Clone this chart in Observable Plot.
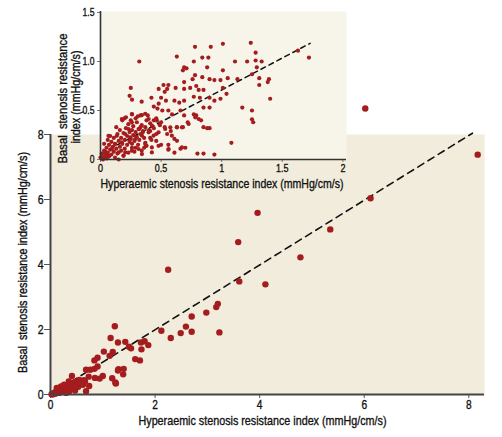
<!DOCTYPE html>
<html><head><meta charset="utf-8">
<script src="https://cdn.jsdelivr.net/npm/d3@7"></script>
<script src="https://cdn.jsdelivr.net/npm/@observablehq/plot@0.6"></script>
<style>
body{margin:0;background:#fff;}
#wrap{position:relative;width:502px;height:437px;}
#wrap svg{position:absolute;left:0;top:0;}
</style></head><body><div id="wrap"></div>
<script>
const FONT = '"Liberation Sans", Arial, sans-serif';

// ---- main chart data (hyperaemic x, basal y) ----
const mainHyper = [8.17,6.02,6.12,5.35,4.78,4.11,3.96,3.59,3.61,2.25,3.23,3.20,3.17,2.98,2.70,2.70,2.59,2.49,2.30,2.12,
  1.87,1.80,1.73,1.74,1.71,1.62,1.50,1.43,1.54,1.29,1.23,1.15,1.19,1.13,1.02,1.30,1.40,1.39,1.29,1.18,1.24,1.25,1.00,0.94,0.85,
  0.90,0.90,0.84,0.84,0.76,0.68,0.73,0.74,0.68,0.41,0.55,
  0.02,0.04,0.05,0.07,0.08,0.10,0.11,0.12,0.14,0.15,0.16,0.17,0.18,0.20,0.21,0.22,0.24,0.25,0.26,0.28,0.29,0.30,0.31,0.33,
  0.34,0.35,0.36,0.38,0.39,0.40,0.42,0.43,0.45,0.46,0.48,0.50,0.52,0.53,0.55,0.57,0.60,0.62,0.64,0.66,0.47,0.30,0.20,0.12,0.35,0.26];
const mainBasal = [7.38,8.80,6.04,5.08,4.22,3.39,5.59,4.69,3.48,3.84,1.91,2.79,2.69,2.52,2.40,1.93,2.09,1.89,1.74,1.96,
  1.52,1.64,1.60,1.39,1.05,1.09,1.47,1.62,1.42,1.60,2.10,1.74,1.31,1.19,1.32,0.78,0.79,0.62,0.74,0.50,0.37,0.34,0.57,0.49,0.51,
  0.86,1.13,1.05,0.79,0.76,0.76,0.55,0.26,0.10,0.57,0.45,
  0.01,0.00,0.03,0.05,0.02,0.08,0.04,0.12,0.06,0.10,0.15,0.05,0.12,0.18,0.08,0.14,0.20,0.10,0.16,0.24,0.12,0.19,0.28,0.15,
  0.22,0.32,0.10,0.26,0.18,0.35,0.24,0.30,0.20,0.38,0.28,0.33,0.40,0.24,0.36,0.42,0.38,0.30,0.44,0.40,0.12,0.05,0.25,0.20,0.40,0.30];
const mainFitX = [0, 8.07];
const mainFitY = [0, 8.04];
const mainTicks = [0, 2, 4, 6, 8];

// ---- inset data ----
const insetHyper = [0.32,0.78,0.91,1.01,1.24,0.63,0.84,0.89,0.77,1.11,1.21,1.28,1.28,1.33,1.63,1.72,0.69,0.71,0.68,1.01,0.88,
  0.78,0.84,0.90,0.94,0.76,0.69,0.69,0.74,0.79,0.81,0.85,0.82,0.77,0.90,0.94,0.99,1.05,1.01,1.04,0.99,1.13,1.25,1.29,1.31,1.31,
  1.38,1.39,1.40,1.17,1.25,1.25,1.26,1.08,0.94,0.85,0.80,0.70,0.66,0.61,0.56,0.61,0.56,0.50,0.85,0.88,0.90,0.77,0.79,0.85,0.90,
  0.83,0.72,0.68,0.63,0.69,0.66,0.65,0.69,0.61,0.62,0.55,0.52,0.56,0.48,0.53,0.50,0.54,0.48,0.44,0.42,0.47,0.51,0.56,0.59,
  0.25,0.24,0.26,0.34,0.39,0.33,0.29,0.26,0.21,0.44,0.49,0.53,0.58,0.55,0.46,0.41,0.41,0.46,0.37,0.36,0.29,0.26,0.33,0.35,
  0.066,0.135,0.176,0.198,0.259,0.308,0.342,0.369,0.397,0.424,0.466,0.259,0.314,0.231,0.204,0.245,0.286,0.342,0.397,0.438,
  0.479,0.534,0.576,0.631,0.672,0.727,0.782,0.810,0.589,0.631,0.672,0.562,0.479,0.424,0.369,0.314,0.259,0.204,0.149,0.094,
  0.066,0.039,0.011,0.025,0.121,0.176,0.190,0.342,0.424,
  0.00,0.01,0.02,0.03,0.04,0.05,0.05,0.06,0.07,0.07,0.08,0.09,0.09,0.10,0.11,0.11,0.12,0.12,0.13,0.14,0.14,0.15,0.16,0.16,
  0.17,0.17,0.18,0.19,0.19,0.20,0.20,0.21,0.22,0.22,0.23,0.23,0.24,0.24,0.25,0.25,0.26,0.26,0.27,0.27,0.28,0.28,0.29,0.30,
  0.30,0.31,0.32,0.32,0.33,0.34,0.34,0.35,0.36,0.37,0.38,0.38,0.40,0.41,0.42,0.44,0.46,0.50,0.18,0.13,0.08,0.03,0.15,0.06];
const insetBasal = [1.00,1.15,1.15,1.18,1.19,1.05,1.04,1.04,1.00,1.00,1.00,1.09,1.01,1.00,1.11,1.04,0.94,0.93,0.91,0.91,0.94,
  0.86,0.84,0.82,0.81,0.82,0.79,0.72,0.73,0.75,0.71,0.71,0.63,0.64,0.63,0.60,0.81,0.83,0.73,0.67,0.62,0.82,0.87,0.94,0.83,0.76,
  0.79,0.82,0.62,0.53,0.50,0.41,0.38,0.17,0.05,0.06,0.06,0.12,0.11,0.07,0.10,0.21,0.15,0.15,0.33,0.32,0.32,0.46,0.45,0.53,0.53,
  0.40,0.38,0.33,0.33,0.45,0.50,0.58,0.60,0.60,0.73,0.72,0.76,0.76,0.72,0.69,0.63,0.60,0.57,0.54,0.63,0.52,0.50,0.50,0.46,
  0.73,0.65,0.61,0.59,0.45,0.45,0.42,0.46,0.43,0.40,0.35,0.33,0.29,0.26,0.26,0.29,0.22,0.19,0.17,0.12,0.12,0.16,0.33,0.29,
  0.242,0.242,0.413,0.420,0.464,0.440,0.453,0.467,0.413,0.345,0.396,0.379,0.311,0.311,0.260,0.226,0.209,0.243,0.277,0.243,
  0.277,0.311,0.328,0.328,0.328,0.362,0.430,0.413,0.243,0.191,0.123,0.107,0.140,0.123,0.157,0.107,0.090,0.072,0.072,0.107,
  0.038,0.072,0.055,0.021,0.157,0.174,0.038,0.055,0.072,
  0.02,0.06,0.00,0.09,0.04,0.12,0.01,0.07,0.15,0.03,0.10,0.18,0.05,0.13,0.08,0.22,0.02,0.16,0.11,0.26,0.06,0.19,0.13,0.30,
  0.09,0.22,0.16,0.27,0.04,0.20,0.11,0.32,0.24,0.15,0.36,0.07,0.28,0.18,0.21,0.40,0.12,0.30,0.25,0.34,0.19,0.08,0.28,0.23,
  0.38,0.15,0.31,0.20,0.26,0.35,0.09,0.28,0.22,0.33,0.14,0.40,0.30,0.37,0.20,0.32,0.42,0.38,0.40,0.33,0.24,0.16,0.00,0.20];
const insetFitX = [0.01, 1.73];
const insetFitY = [0.065, 1.185];
const insetXTicks = [0, 0.5, 1, 1.5, 2];
const insetXLabels = ["0", "0.5", "1", "1.5", "2"];
const insetYTicks = [0, 0.5, 1, 1.5];
const insetYLabels = ["0", "0.5", "1.0", "1.5"];

const xLabel = "Hyperaemic stenosis resistance index (mmHg/cm/s)";
const yLabelMain = "Basal  stenosis resistance index (mmHg/cm/s)";
const yLabelInset1 = "Basal  stenosis resistance";
const yLabelInset2 = "index (mmHg/cm/s)";

const DOT = "#a51c1e";
const mainData = mainHyper.map((x, i) => ({x, y: mainBasal[i]}));
const mainFit = mainFitX.map((x, i) => ({x, y: mainFitY[i]}));
const insetData = insetHyper.map((x, i) => ({x, y: insetBasal[i]}));
const insetFit = insetFitX.map((x, i) => ({x, y: insetFitY[i]}));

const lbl = {fill: "#111", textAnchor: "middle", fontSize: 13.5};

const mainPlot = Plot.plot({
  width: 502, height: 437,
  marginLeft: 50, marginRight: 18, marginTop: 134, marginBottom: 43,
  x: {domain: [0, 8.3]},
  y: {domain: [0, 8]},
  style: {fontFamily: FONT, fontSize: "13px", background: "transparent", overflow: "visible", color: "#111"},
  marks: [
    Plot.frame({fill: "#f1ecdc", stroke: null}),
    Plot.axisX({ticks: mainTicks, tickSize: 4, tickPadding: 1, label: null, stroke: "#555", fontSize: 13}),
    Plot.axisY({ticks: mainTicks, tickSize: 6, tickPadding: 1, label: null, stroke: "#555", fontSize: 13.5}),
    Plot.line(mainFit, {x: "x", y: "y", stroke: "#111", strokeWidth: 1.6, strokeDasharray: "7,5"}),
    Plot.dot(mainData, {x: "x", y: "y", r: 3.2, fill: DOT}),
    Plot.ruleY([0], {stroke: "#444", strokeWidth: 2}),
    Plot.ruleX([0], {stroke: "#444", strokeWidth: 2}),
    Plot.text([xLabel], {...lbl, text: d => d, frameAnchor: "bottom", dy: 30, dx: -5}),
    Plot.text([yLabelMain], {...lbl, text: d => d, frameAnchor: "left", dx: -28, dy: -2, rotate: -90})
  ]
});

const insetPlot = Plot.plot({
  width: 360, height: 200,
  marginLeft: 100, marginRight: 14, marginTop: 11, marginBottom: 41,
  x: {domain: [0, 2.03]},
  y: {domain: [0, 1.51]},
  style: {fontFamily: FONT, fontSize: "11px", background: "transparent", overflow: "visible", color: "#111"},
  marks: [
    Plot.frame({fill: "#f7f4ea", stroke: null}),
    Plot.axisX({ticks: insetXTicks, tickFormat: (d, i) => insetXLabels[i], tickSize: 3, tickPadding: 1, label: null, stroke: "#777", fontSize: 11.5}),
    Plot.axisY({ticks: insetYTicks, tickFormat: (d, i) => insetYLabels[i], tickSize: 3, tickPadding: 3, label: null, stroke: "#777", fontSize: 11}),
    Plot.line(insetFit, {x: "x", y: "y", stroke: "#111", strokeWidth: 1.5, strokeDasharray: "5,4"}),
    Plot.dot(insetData, {x: "x", y: "y", r: 2.1, fill: DOT}),
    Plot.ruleY([0], {stroke: "#333", strokeWidth: 1.6}),
    Plot.ruleX([0], {stroke: "#333", strokeWidth: 1.6}),
    Plot.text([xLabel], {...lbl, text: d => d, frameAnchor: "bottom", dy: 28, dx: -1.5}),
    Plot.text([yLabelInset1], {...lbl, text: d => d, frameAnchor: "left", dx: -38, dy: 13, rotate: -90}),
    Plot.text([yLabelInset2], {...lbl, text: d => d, frameAnchor: "left", dx: -24.5, dy: 11.5, rotate: -90})
  ]
});

const wrap = document.getElementById("wrap");
wrap.appendChild(mainPlot);
wrap.appendChild(insetPlot);

// condensed look: squeeze glyphs horizontally (the original uses a heavier condensed typeface)
const targetWidths = new Map([[xLabel, 248], [yLabelMain, 221], [yLabelInset1, 130], [yLabelInset2, 93]]);
for (const svg of [mainPlot, insetPlot]) {
  d3.select(svg).selectAll("text").each(function () {
    if (this.querySelector("tspan")) return;
    const w = this.getComputedTextLength();
    const t = this.textContent;
    const target = targetWidths.has(t) ? targetWidths.get(t) : w * 0.78;
    this.setAttribute("textLength", target);
    this.setAttribute("lengthAdjust", "spacingAndGlyphs");
    this.setAttribute("stroke", "#111");
    this.setAttribute("stroke-width", "0.35");
  });
}
// inset x-label width matches the inset frame
d3.select(insetPlot).selectAll("text").filter(function () { return this.textContent === xLabel; }).attr("textLength", 243);
</script>
</body></html>
